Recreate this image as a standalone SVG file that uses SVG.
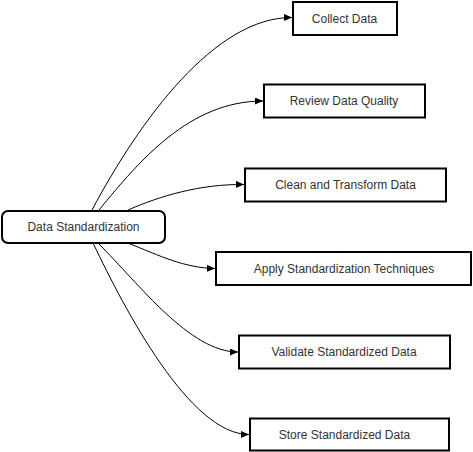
<svg xmlns="http://www.w3.org/2000/svg" width="473" height="452" viewBox="0 0 473 452">
<defs>
<style>
.node{fill:#fff;stroke:#000;stroke-width:2}
.lbl{font-family:"Liberation Sans",Arial,sans-serif;font-size:12px;fill:#333;text-anchor:middle;dominant-baseline:central}
.edge{fill:none;stroke:#000;stroke-width:1;marker-end:url(#arr)}
</style>
<marker id="arr" markerUnits="userSpaceOnUse" markerWidth="9" markerHeight="8" refX="8" refY="3.5" orient="auto">
<path d="M0,0 L8,3.5 L0,7 z" fill="#000"/>
</marker>
</defs>
<rect width="473" height="452" fill="#fff"/>
<g id="connectors">
<path class="edge" d="M92,210 C140,120 215,17 292,17.5"/>
<path class="edge" d="M99,210 C140,160 190,101 263,101"/>
<path class="edge" d="M128,210 C160,196 200,184 244,184.5"/>
<path class="edge" d="M128,243 C160,256 185,268 215,268.5"/>
<path class="edge" d="M98,243 C140,285 190,352 238,352"/>
<path class="edge" d="M93,243 C125,310 190,434.5 249,434.5"/>
</g>
<g id="root">
<rect class="node" x="2" y="211" width="163" height="32" rx="6"/>
<text class="lbl" x="83.5" y="227">Data Standardization</text>
</g>
<g id="collect">
<rect class="node" x="293" y="2" width="104" height="33"/>
<text class="lbl" x="344.5" y="18.5">Collect Data</text>
</g>
<g id="review">
<rect class="node" x="264" y="84.5" width="161" height="33"/>
<text class="lbl" x="344" y="101">Review Data Quality</text>
</g>
<g id="clean">
<rect class="node" x="245" y="168.5" width="201" height="33"/>
<text class="lbl" x="345.5" y="185">Clean and Transform Data</text>
</g>
<g id="apply">
<rect class="node" x="216" y="252" width="255" height="33"/>
<text class="lbl" x="344" y="268.5">Apply Standardization Techniques</text>
</g>
<g id="validate">
<rect class="node" x="239" y="335.5" width="211" height="33"/>
<text class="lbl" x="344" y="352">Validate Standardized Data</text>
</g>
<g id="store">
<rect class="node" x="250" y="418.5" width="199" height="32"/>
<text class="lbl" x="344.5" y="435">Store Standardized Data</text>
</g>
</svg>
